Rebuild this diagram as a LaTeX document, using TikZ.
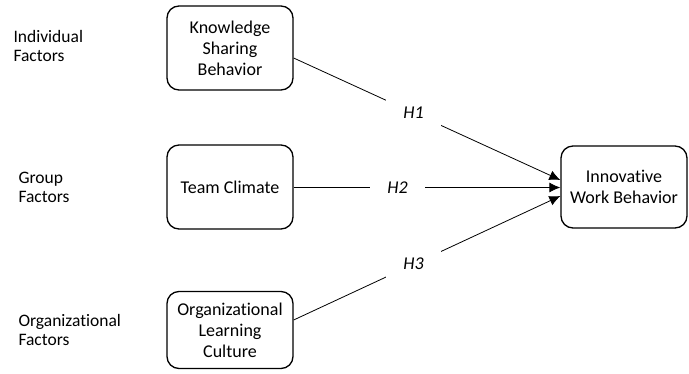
\documentclass[tikz,border=0pt]{standalone}
\usepackage{fontspec}
\setmainfont[Ligatures=NoCommon]{Carlito}
\usepackage{tikz}
\usetikzlibrary{positioning,calc,arrows.meta}

\begin{document}
\begin{tikzpicture}[x=1pt, y=-1pt,
  factor/.style={draw, rounded corners=12pt, line width=1.3pt, minimum width=126pt, minimum height=84pt, align=center, font=\fontsize{18}{21}\selectfont},
  level/.style={anchor=west, align=left, font=\fontsize{17.5}{19}\selectfont},
  hyp/.style={line width=0.8pt, -{Latex[length=11pt,width=10pt]}},
  hlabel/.style={fill=white, inner sep=0pt, minimum width=55pt, minimum height=28pt, font=\fontsize{18}{20}\selectfont\itshape}]

\useasboundingbox (0,0) rectangle (689,373);

% Level labels
\node[level] (indiv) at (10,46) {Individual\\Factors};
\node[level] (group) at (15,187) {Group\\Factors};
\node[level] (org) at (15,330) {Organizational\\Factors};

% Knowledge Sharing Behavior
\node[factor] (ksb) at (230,48) {Knowledge\\Sharing\\Behavior};

% Team Climate
\node[factor] (tc) at (230,187) {Team Climate};

% Organizational Learning Culture
\node[factor, minimum height=77pt] (olc) at (230,330) {Organizational\\Learning\\Culture};

% Innovative Work Behavior
\node[factor, minimum height=82pt] (iwb) at (624,187) {Innovative\\Work Behavior};

% Arrows - hypotheses
\draw[hyp] ($(ksb.east)+(0,10)$) -- node[hlabel, pos=0.45] (h1) {H1} ($(iwb.west)+(0,-7)$);
\draw[hyp] ($(tc.east)+(0,0.5)$) -- node[hlabel, pos=0.39] (h2) {H2} ($(iwb.west)+(0,0.5)$);
\draw[hyp] ($(olc.east)+(0,-10)$) -- node[hlabel, pos=0.45] (h3) {H3} ($(iwb.west)+(0,9)$);

\end{tikzpicture}
\end{document}
